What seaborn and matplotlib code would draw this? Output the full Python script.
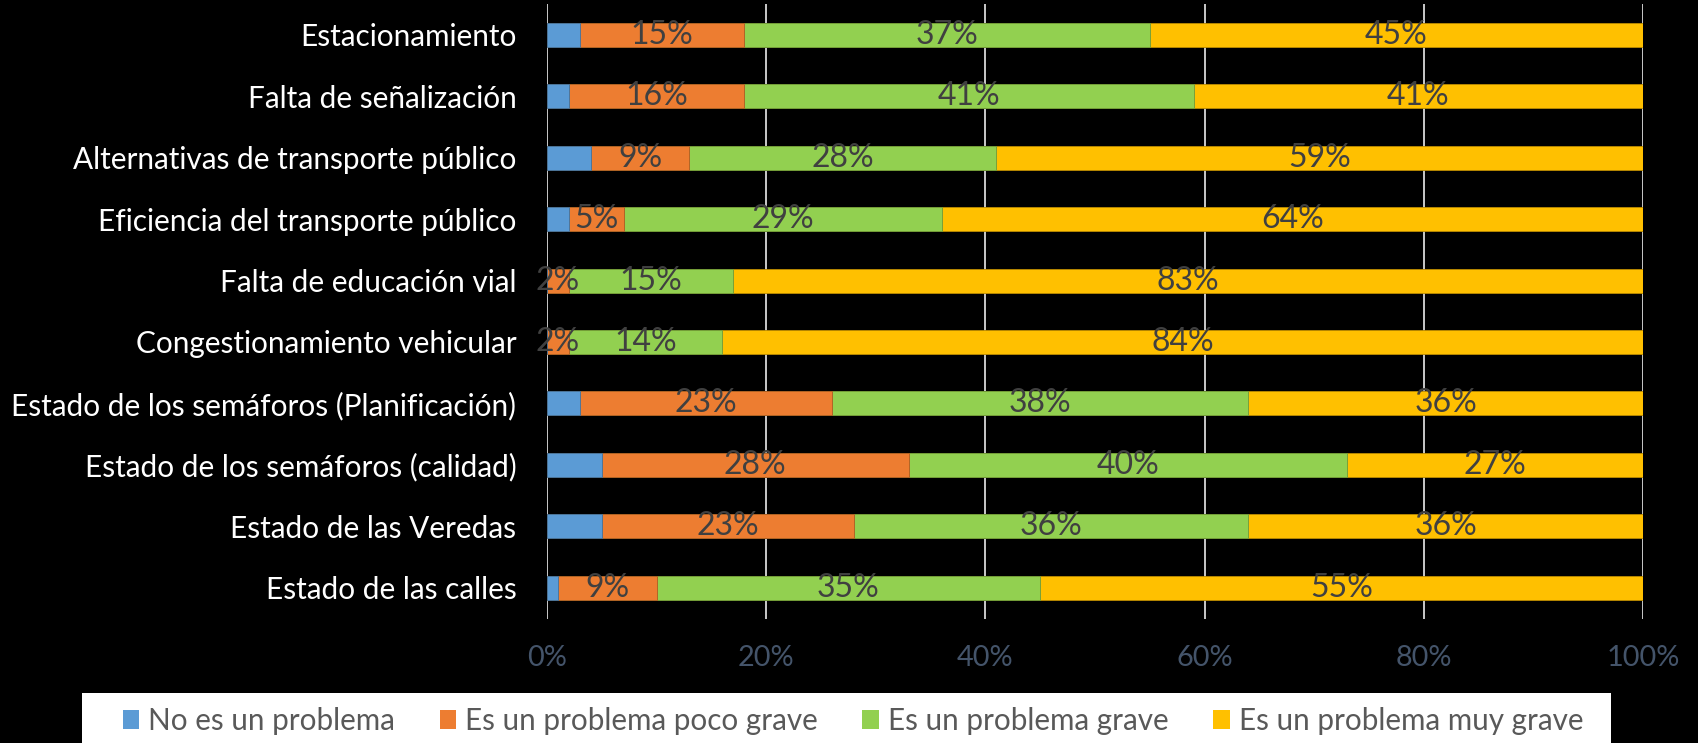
import matplotlib.pyplot as plt
import matplotlib.ticker
from matplotlib.patches import Patch, Rectangle
import seaborn as sns
import pandas as pd
import numpy as np

categories = [
    "Estacionamiento",
    "Falta de señalización",
    "Alternativas de transporte público",
    "Eficiencia del transporte público",
    "Falta de educación vial",
    "Congestionamiento vehicular",
    "Estado de los semáforos (Planificación)",
    "Estado de los semáforos (calidad)",
    "Estado de las Veredas",
    "Estado de las calles",
]
series = ["No es un problema", "Es un problema poco grave",
          "Es un problema grave", "Es un problema muy grave"]
no_problema = [3, 2, 4, 2, 0, 0, 3, 5, 5, 1]
poco_grave = [15, 16, 9, 5, 2, 2, 23, 28, 23, 9]
grave = [37, 41, 28, 29, 15, 14, 38, 40, 36, 35]
muy_grave = [45, 41, 59, 64, 83, 84, 36, 27, 36, 55]
ticks = [0, 20, 40, 60, 80, 100]

colors = ["#5B9BD5", "#ED7D31", "#92D050", "#FFC000"]
edges = ["#41719C", "#AE5A21", "#6B9A3A", "#BC8C00"]

df = pd.DataFrame({"cat": categories, series[0]: no_problema, series[1]: poco_grave,
                   series[2]: grave, series[3]: muy_grave})
cum = df[series].cumsum(axis=1)

sns.set_theme(style="white")
plt.rcParams['font.family'] = ['Lato', 'DejaVu Sans']

W, H = 1698, 743
fig = plt.figure(figsize=(W / 100, H / 100), dpi=100, facecolor="black")
# plot area in pixels: x 547..1643, y 4..618
ax = fig.add_axes([547 / W, 1 - 618.5 / H, (1643 - 547) / W, (618.5 - 4) / H])
ax.set_facecolor("black")

# stack by overlaying cumulative totals, widest first
for i in range(3, -1, -1):
    tmp = pd.DataFrame({"cat": categories, "val": cum[series[i]]})
    sns.barplot(data=tmp, x="val", y="cat", orient="h", color=colors[i],
                width=0.39, saturation=1, edgecolor=edges[i], linewidth=0.6,
                ax=ax, zorder=3)

# data labels (not for the first series)
for i in range(1, 4):
    for j, c in enumerate(categories):
        v = df[series[i]][j]
        if v <= 0:
            continue
        left = cum[series[i]][j] - v
        ax.text(left + v / 2, j, f"{v}%", ha="center", va="center",
                color="#404040", fontsize=23, zorder=5)

ax.set_xlim(0, 100)
ax.set_ylim(9.5, -0.5)
ax.set_xticks(ticks)
ax.xaxis.set_major_formatter(matplotlib.ticker.FuncFormatter(lambda x, p: f"{int(x)}%"))
ax.grid(axis="x", color="#D9D9D9", linewidth=1.3, zorder=0)
ax.set_axisbelow(True)
for s in ax.spines.values():
    s.set_visible(False)
ax.tick_params(axis="x", colors="#44546A", labelsize=20.8, length=0, pad=19)
ax.tick_params(axis="y", colors="white", labelsize=21.4, length=0, pad=22)
ax.set_xlabel("")
ax.set_ylabel("")

# white legend band
fig.patches.append(Rectangle((82 / W, 0), (1611 - 82) / W, 50 / H, transform=fig.transFigure,
                             facecolor="white", edgecolor="none", zorder=0))
handles = [Patch(facecolor=colors[i], edgecolor="none", label=series[i]) for i in range(4)]
leg = fig.legend(handles=handles, loc="center", bbox_to_anchor=(853 / W, 1 - 721 / H),
                 ncol=4, frameon=False, fontsize=21.3,
                 handlelength=0.57, handleheight=0.57, handletextpad=0.3,
                 columnspacing=1.5, borderpad=0, borderaxespad=0)
for t in leg.get_texts():
    t.set_color("#595959")

fig.savefig("out.png", dpi=100, facecolor="black")
